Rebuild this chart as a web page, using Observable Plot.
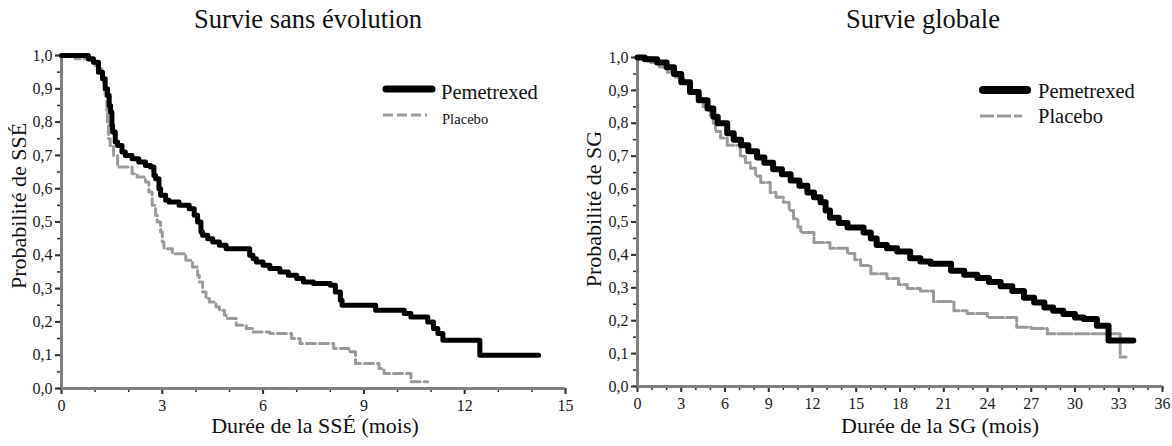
<!DOCTYPE html>
<html>
<head>
<meta charset="utf-8">
<script src="https://cdn.jsdelivr.net/npm/d3@7"></script>
<script src="https://cdn.jsdelivr.net/npm/@observablehq/plot@0.6"></script>
<style>
  html, body { margin: 0; padding: 0; background: #fff; }
  #wrap { position: relative; width: 1172px; height: 446px; font-family: "Liberation Serif", "Times New Roman", serif; color: #111; overflow: hidden; }
  .panel { position: absolute; top: 0; }
  .panel text { font-family: "Liberation Serif", serif !important; }
  .title { position: absolute; font-size: 26.5px; line-height: 30px; white-space: nowrap; transform: translateX(-50%); }
  .xlab { position: absolute; font-size: 22px; line-height: 25px; white-space: nowrap; transform: translateX(-50%); }
  .ylab { position: absolute; font-size: 22px; line-height: 25px; white-space: nowrap; transform: translate(-50%, -50%) rotate(-90deg); }
  .leg { position: absolute; white-space: nowrap; }
</style>
</head>
<body>
<div id="wrap"></div>
<script>
// ---------- Data ----------
// Survie sans évolution (SSÉ) — Pemetrexed
const pfsPemT = [0, 0.8, 0.95, 1.1, 1.22, 1.3, 1.37, 1.42, 1.46, 1.5, 1.52, 1.6, 1.67, 1.8, 1.9, 2.1, 2.3, 2.5, 2.65, 2.75, 2.8, 2.9, 2.95, 3.1, 3.2, 3.5, 3.8, 3.95, 4.05, 4.15, 4.2, 4.35, 4.5, 4.7, 4.9, 5.6, 5.7, 5.8, 6.0, 6.2, 6.5, 6.75, 7.0, 7.2, 7.5, 8.0, 8.15, 8.3, 8.35, 9.35, 10.2, 10.4, 10.9, 11.07, 11.2, 11.35, 12.45, 14.2];
const pfsPemS = [1.0, 0.99, 0.98, 0.95, 0.93, 0.90, 0.88, 0.85, 0.83, 0.79, 0.77, 0.74, 0.73, 0.71, 0.70, 0.69, 0.68, 0.67, 0.665, 0.64, 0.63, 0.60, 0.58, 0.565, 0.56, 0.55, 0.54, 0.52, 0.50, 0.47, 0.46, 0.45, 0.44, 0.43, 0.42, 0.40, 0.39, 0.38, 0.37, 0.36, 0.35, 0.34, 0.33, 0.32, 0.315, 0.31, 0.29, 0.265, 0.25, 0.235, 0.225, 0.215, 0.20, 0.18, 0.165, 0.145, 0.10, 0.10];
// SSÉ — Placebo
const pfsPlaT = [0, 0.4, 0.8, 1.0, 1.1, 1.2, 1.25, 1.3, 1.35, 1.37, 1.4, 1.45, 1.55, 1.67, 2.1, 2.25, 2.5, 2.6, 2.7, 2.8, 2.85, 2.95, 3.0, 3.05, 3.3, 3.7, 3.9, 4.05, 4.1, 4.2, 4.3, 4.4, 4.6, 4.7, 4.85, 4.9, 5.2, 5.5, 5.7, 6.2, 6.85, 7.1, 8.1, 8.55, 8.75, 9.45, 9.6, 10.4, 10.9];
const pfsPlaS = [1.0, 0.99, 0.985, 0.97, 0.96, 0.94, 0.92, 0.88, 0.83, 0.80, 0.75, 0.73, 0.70, 0.665, 0.645, 0.635, 0.62, 0.59, 0.55, 0.52, 0.50, 0.47, 0.44, 0.42, 0.405, 0.385, 0.365, 0.34, 0.32, 0.29, 0.27, 0.26, 0.245, 0.235, 0.22, 0.21, 0.19, 0.18, 0.17, 0.165, 0.15, 0.135, 0.12, 0.11, 0.075, 0.06, 0.045, 0.02, 0.02];
// Survie globale (SG) — Pemetrexed
const osPemT = [0, 0.5, 1.35, 2.0, 2.5, 3.0, 3.6, 4.2, 4.8, 5.2, 5.5, 6.15, 6.6, 7.1, 7.6, 8.2, 8.7, 9.3, 9.9, 10.5, 11.1, 11.65, 12.1, 12.55, 12.9, 13.2, 13.8, 14.4, 15.5, 16.0, 16.4, 17.1, 17.8, 18.7, 19.4, 20.1, 21.5, 22.4, 23.3, 24.1, 24.9, 25.7, 26.5, 27.2, 27.9, 28.5, 29.2, 30.0, 30.6, 31.5, 32.3, 34.0];
const osPemS = [1.0, 0.995, 0.985, 0.97, 0.95, 0.925, 0.895, 0.87, 0.845, 0.82, 0.80, 0.77, 0.75, 0.733, 0.715, 0.696, 0.68, 0.66, 0.645, 0.626, 0.61, 0.59, 0.575, 0.56, 0.535, 0.513, 0.497, 0.483, 0.468, 0.45, 0.43, 0.42, 0.41, 0.39, 0.38, 0.373, 0.352, 0.34, 0.33, 0.318, 0.305, 0.29, 0.27, 0.255, 0.24, 0.23, 0.22, 0.21, 0.205, 0.185, 0.14, 0.14];
// SG — Placebo
const osPlaT = [0, 0.9, 1.5, 2.05, 2.6, 3.2, 3.6, 4.1, 4.5, 5.0, 5.2, 5.35, 5.7, 6.15, 7.05, 7.4, 7.75, 8.1, 8.45, 9.1, 9.5, 10.0, 10.4, 10.7, 11.0, 11.2, 12.1, 13.2, 14.4, 14.9, 15.3, 16.0, 17.1, 17.9, 18.5, 19.4, 20.3, 21.7, 22.6, 24.0, 26.0, 27.0, 28.1, 33.1, 33.5];
const osPlaS = [1.0, 0.985, 0.97, 0.955, 0.94, 0.925, 0.90, 0.875, 0.85, 0.824, 0.80, 0.775, 0.755, 0.733, 0.70, 0.68, 0.663, 0.64, 0.62, 0.59, 0.575, 0.56, 0.535, 0.51, 0.485, 0.468, 0.438, 0.42, 0.404, 0.385, 0.368, 0.343, 0.328, 0.31, 0.298, 0.29, 0.258, 0.23, 0.222, 0.21, 0.18, 0.176, 0.16, 0.09, 0.09];

const yTicks = [0, 0.1, 0.2, 0.3, 0.4, 0.5, 0.6, 0.7, 0.8, 0.9, 1.0];
const yMinor = d3.range(0, 1.0001, 0.05);
const pfsXTicks = [0, 3, 6, 9, 12, 15];
const osXTicks = [0, 3, 6, 9, 12, 15, 18, 21, 24, 27, 30, 33, 36];
const series = ["Pemetrexed", "Placebo"];
// ---------------------------------------------------

const toRows = (T, S) => T.map((t, i) => ({t, s: S[i]}));
const fmtY = d => d3.format(".1f")(d).replace(".", ",");
const SERIF = "Liberation Serif";

function panel({xMax, xTicks, pem, pla, marginLeft, marginRight, marginTop, marginBottom, dash, pemW}) {
  return Plot.plot({
    width: 586, height: 446,
    marginLeft, marginRight, marginTop, marginBottom,
    style: {fontFamily: SERIF, fontSize: "16px", color: "#222", background: "#fff"},
    x: {domain: [0, xMax], label: null},
    y: {domain: [0, 1], label: null},
    marks: [
      // minor ticks
      Plot.axisX({ticks: d3.range(0, xMax + 1, 1), tickSize: 4, text: null, label: null, stroke: "#333", strokeWidth: 1.5}),
      Plot.axisY({ticks: yMinor, tickSize: 4, text: null, label: null, stroke: "#333", strokeWidth: 1.5}),
      // major ticks
      Plot.axisX({ticks: xTicks, tickSize: 6, tickPadding: 5, tickFormat: d3.format("d"), label: null, stroke: "#333", strokeWidth: 2, fill: "#1a1a1a", fontFamily: SERIF, fontSize: 16}),
      Plot.axisY({ticks: yTicks, tickSize: 6, tickPadding: 3, tickFormat: fmtY, label: null, stroke: "#333", strokeWidth: 2, fill: "#1a1a1a", fontFamily: SERIF, fontSize: 16}),
      // axis lines
      Plot.ruleY([0], {x1: 0, x2: xMax, stroke: "#808080", strokeWidth: 3}),
      Plot.ruleX([0], {y1: 0, y2: 1, stroke: "#808080", strokeWidth: 3}),
      // curves
      Plot.line(pla, {x: "t", y: "s", curve: "step-after", stroke: "#9a9a9a", strokeWidth: 3, strokeDasharray: dash}),
      Plot.line(pem, {x: "t", y: "s", curve: "step-after", stroke: "#000", strokeWidth: pemW, strokeLinejoin: "round", strokeLinecap: "round"})
    ]
  });
}

const wrap = document.getElementById("wrap");

const p1 = panel({xMax: 15, xTicks: pfsXTicks, pem: toRows(pfsPemT, pfsPemS), pla: toRows(pfsPlaT, pfsPlaS),
  marginLeft: 61, marginRight: 21, marginTop: 55, marginBottom: 58, dash: "9,4", pemW: 5});
p1.classList.add("panel"); p1.style.left = "0px";
wrap.appendChild(p1);

const p2 = panel({xMax: 36, xTicks: osXTicks, pem: toRows(osPemT, osPemS), pla: toRows(osPlaT, osPlaS),
  marginLeft: 51, marginRight: 10, marginTop: 57, marginBottom: 60, dash: "14,3", pemW: 6});
p2.classList.add("panel"); p2.style.left = "586px";
wrap.appendChild(p2);

function addDiv(cls, text, css) {
  const d = document.createElement("div");
  d.className = cls; d.textContent = text;
  Object.assign(d.style, css);
  wrap.appendChild(d);
  return d;
}
addDiv("title", "Survie sans évolution", {left: "308px", top: "4px"});
addDiv("title", "Survie globale", {left: "923px", top: "4px"});
addDiv("xlab", "Durée de la SSÉ (mois)", {left: "315px", top: "413px"});
addDiv("xlab", "Durée de la SG (mois)", {left: "940px", top: "413px"});
addDiv("ylab", "Probabilité de SSÉ", {left: "18px", top: "206px"});
addDiv("ylab", "Probabilité de SG", {left: "593px", top: "209px"});

function legendLine(x, y, w, color, sw, dash, cap) {
  const ns = "http://www.w3.org/2000/svg";
  const s = document.createElementNS(ns, "svg");
  s.setAttribute("width", w + 10); s.setAttribute("height", 14);
  s.style.position = "absolute"; s.style.left = (x - 5) + "px"; s.style.top = (y - 7) + "px";
  const l = document.createElementNS(ns, "line");
  l.setAttribute("x1", 5); l.setAttribute("x2", w + 5); l.setAttribute("y1", 7); l.setAttribute("y2", 7);
  l.setAttribute("stroke", color); l.setAttribute("stroke-width", sw);
  l.setAttribute("stroke-linecap", cap);
  if (dash) l.setAttribute("stroke-dasharray", dash);
  s.appendChild(l);
  wrap.appendChild(s);
}
// left legend
legendLine(386, 89, 46, "#000", 7, null, "round");
legendLine(383, 115, 44, "#9a9a9a", 3, "10,4", "butt");
addDiv("leg", series[0], {left: "441px", top: "80px", fontSize: "20.5px", lineHeight: "24px"});
addDiv("leg", series[1], {left: "442px", top: "111px", fontSize: "14.6px", lineHeight: "17px"});
// right legend
legendLine(983, 90, 44, "#000", 8, null, "round");
legendLine(980, 116, 42, "#9a9a9a", 3, "14,3", "butt");
addDiv("leg", series[0], {left: "1038px", top: "79px", fontSize: "20.5px", lineHeight: "24px"});
addDiv("leg", series[1], {left: "1038px", top: "104px", fontSize: "20.5px", lineHeight: "24px"});
</script>
</body>
</html>
